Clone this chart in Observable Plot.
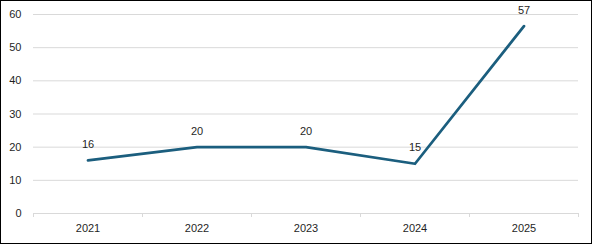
<!DOCTYPE html>
<html>
<head>
<meta charset="utf-8">
<script src="https://cdn.jsdelivr.net/npm/d3@7"></script>
<script src="https://cdn.jsdelivr.net/npm/@observablehq/plot@0.6"></script>
<style>
  html, body { margin: 0; padding: 0; background: #fff; }
  #chart svg { display: block; }
</style>
</head>
<body>
<div id="chart"></div>
<script>
const years = [2021, 2022, 2023, 2024, 2025];
const values = [16, 20, 20, 15, 56.5];
const yTicks = [0, 10, 20, 30, 40, 50, 60];

const data = years.map((year, i) => ({year, value: values[i]}));
const bounds = years.map(y => y - 0.5).concat([years[years.length - 1] + 0.5]);

const textColor = "#1f1f1f";
const gridColor = "#d9d9d9";
const lineColor = "#1b5e7e";

const chart = Plot.plot({
  width: 593,
  height: 245,
  marginLeft: 33,
  marginRight: 15,
  marginTop: 14,
  marginBottom: 32,
  style: {fontFamily: "'Liberation Sans', Arial, sans-serif", fontSize: "11px", color: textColor, background: "#fff"},
  x: {type: "linear", domain: [bounds[0], bounds[bounds.length - 1]]},
  y: {domain: [0, 60]},
  marks: [
    Plot.gridY(yTicks, {stroke: gridColor, strokeOpacity: 1, strokeWidth: 1}),
    Plot.axisY(yTicks, {tickSize: 0, tickPadding: 12, label: null, fill: textColor, fontSize: 11}),
    Plot.axisX(bounds, {tickSize: 4, stroke: gridColor, strokeOpacity: 1, tickFormat: () => "", label: null}),
    Plot.axisX(years, {tickSize: 0, tickPadding: 11, tickFormat: d => String(d), label: null, fill: textColor, fontSize: 11}),
    Plot.line(data, {x: "year", y: "value", stroke: lineColor, strokeWidth: 2.75, strokeLinecap: "round", strokeLinejoin: "round"}),
    Plot.text(data, {x: "year", y: "value", text: d => String(Math.round(d.value)), dy: -16, fill: textColor, fontSize: 11})
  ]
});

d3.select(chart).append("rect")
  .attr("x", 0.5).attr("y", 0.5)
  .attr("width", 591).attr("height", 243)
  .attr("fill", "none").attr("stroke", "#000").attr("stroke-width", 1);

document.getElementById("chart").appendChild(chart);
</script>
</body>
</html>
